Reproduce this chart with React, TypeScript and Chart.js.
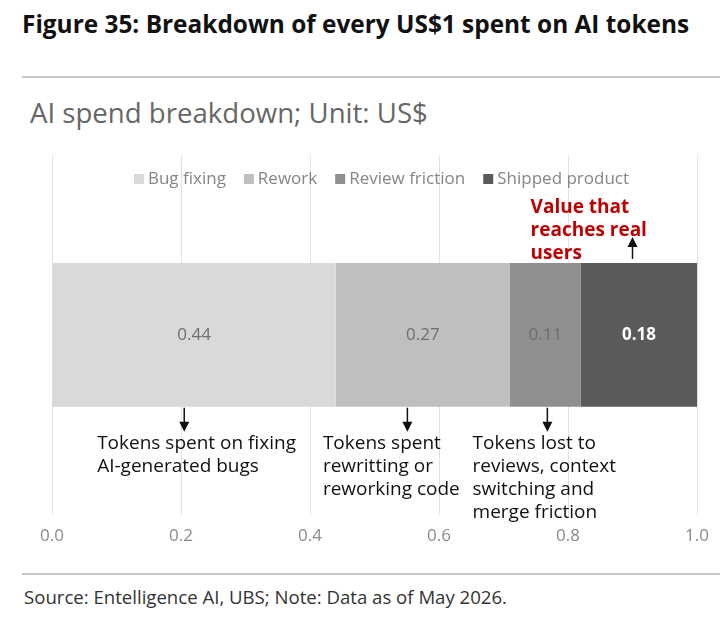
import React, { useEffect, useRef } from "react";
import { Chart, registerables } from "chart.js";

Chart.register(...registerables);

const categories = ["AI spend"];
const seriesNames = ["Bug fixing", "Rework", "Review friction", "Shipped product"];
const seriesValues = [0.44, 0.27, 0.11, 0.18];
const seriesColors = ["#d9d9d9", "#bfbfbf", "#8f8f8f", "#5a5a5a"];
const labelColors = ["#6f6f6f", "#6f6f6f", "#6e6e6e", "#ffffff"];
const labelBold = [false, false, false, true];
const tickValues = [0, 0.2, 0.4, 0.6, 0.8, 1.0];

const belowNotes = [
  { arrowAt: 0.205, textAt: 0.07, lines: ["Tokens spent on fixing", "AI-generated bugs"] },
  { arrowAt: 0.551, textAt: 0.42, lines: ["Tokens spent", "rewritting or", "reworking code"] },
  { arrowAt: 0.768, textAt: 0.652, lines: ["Tokens lost to", "reviews, context", "switching and", "merge friction"] },
];
const aboveNote = { arrowAt: 0.9, textAt: 0.742, lines: ["Value that", "reaches real", "users"] };

const FONT = "'Open Sans', 'Noto Sans', sans-serif";

function arrow(ctx: CanvasRenderingContext2D, x: number, y0: number, y1: number) {
  const dir = y1 > y0 ? 1 : -1;
  ctx.save();
  ctx.strokeStyle = "#111";
  ctx.fillStyle = "#111";
  ctx.lineWidth = 1.5;
  ctx.beginPath();
  ctx.moveTo(x, y0);
  ctx.lineTo(x, y1 - dir * 8);
  ctx.stroke();
  ctx.beginPath();
  ctx.moveTo(x, y1);
  ctx.lineTo(x - 5, y1 - dir * 10);
  ctx.lineTo(x + 5, y1 - dir * 10);
  ctx.closePath();
  ctx.fill();
  ctx.restore();
}

const overlayPlugin = {
  id: "overlay",
  afterDatasetsDraw(chart: any) {
    const ctx: CanvasRenderingContext2D = chart.ctx;
    const xs = chart.scales.x;
    chart.data.datasets.forEach((ds: any, i: number) => {
      const meta = chart.getDatasetMeta(i);
      meta.data.forEach((bar: any) => {
        const p = bar.getProps(["x", "y", "base"], true);
        const cx = (p.x + p.base) / 2;
        ctx.save();
        ctx.font = `${labelBold[i] ? "bold " : ""}17px ${FONT}`;
        ctx.fillStyle = labelColors[i];
        ctx.textAlign = "center";
        ctx.textBaseline = "middle";
        ctx.fillText(String(ds.data[0]), cx, p.y);
        ctx.restore();
      });
    });
    const bar0 = chart.getDatasetMeta(0).data[0];
    const bh = bar0.height;
    const barTop = bar0.y - bh / 2;
    const barBottom = bar0.y + bh / 2;

    belowNotes.forEach((n) => {
      const ax = xs.getPixelForValue(n.arrowAt);
      arrow(ctx, ax, barBottom + 1, barBottom + 25);
      ctx.save();
      ctx.font = `19px ${FONT}`;
      ctx.fillStyle = "#111";
      ctx.textAlign = "left";
      ctx.textBaseline = "middle";
      n.lines.forEach((l, k) => {
        ctx.fillText(l, xs.getPixelForValue(n.textAt), barBottom + 37 + k * 23);
      });
      ctx.restore();
    });

    const ax = xs.getPixelForValue(aboveNote.arrowAt);
    arrow(ctx, ax, barTop - 4, barTop - 26);
    ctx.save();
    ctx.font = `bold 19px ${FONT}`;
    ctx.fillStyle = "#c00000";
    ctx.textAlign = "left";
    ctx.textBaseline = "middle";
    aboveNote.lines.forEach((l, k) => {
      ctx.fillText(l, xs.getPixelForValue(aboveNote.textAt), barTop - 55 + k * 23);
    });
    ctx.restore();

    // legend (drawn over grid)
    ctx.save();
    ctx.font = `17px ${FONT}`;
    ctx.textBaseline = "middle";
    const box = 10;
    const gapBox = 4;
    const gapItem = 18;
    const widths = seriesNames.map((s) => box + gapBox + ctx.measureText(s).width);
    const total = widths.reduce((a, b) => a + b, 0) + gapItem * (seriesNames.length - 1);
    let x = (chart.chartArea.left + chart.chartArea.right) / 2 - total / 2 + 7;
    const ly = chart.chartArea.top + 24;
    seriesNames.forEach((s, i) => {
      ctx.fillStyle = seriesColors[i];
      ctx.fillRect(x, ly - box / 2, box, box);
      ctx.fillStyle = "#858585";
      ctx.fillText(s, x + box + gapBox, ly);
      x += widths[i] + gapItem;
    });
    ctx.restore();
  },
};

export default function App() {
  const ref = useRef<HTMLCanvasElement>(null);
  useEffect(() => {
    if (!ref.current) return;
    const chart = new Chart(ref.current, {
      type: "bar",
      data: {
        labels: categories,
        datasets: seriesNames.map((name, i) => ({
          label: name,
          data: [seriesValues[i]],
          backgroundColor: seriesColors[i],
          borderWidth: 0,
          barPercentage: 0.4,
          categoryPercentage: 1,
        })),
      },
      options: {
        indexAxis: "y",
        animation: false,
        responsive: false,
        maintainAspectRatio: false,
        layout: { padding: { left: 52, right: 31, top: 15, bottom: 3 } },
        plugins: {
          legend: { display: false },
          title: { display: false },
          tooltip: { enabled: false },
        },
        scales: {
          x: {
            stacked: true,
            min: 0,
            max: 1,
            afterBuildTicks: (axis: any) => {
              axis.ticks = tickValues.map((v) => ({ value: v }));
            },
            ticks: {
              callback: (v: any) => Number(v).toFixed(1),
              color: "#8a8a8a",
              font: { family: FONT, size: 17 },
              padding: 11,
            },
            grid: { color: "#e3e3e3", lineWidth: 1, drawTicks: false },
            border: { display: false },
          },
          y: {
            stacked: true,
            display: false,
          },
        },
      },
      plugins: [overlayPlugin],
    } as any);
    return () => chart.destroy();
  }, []);

  return (
    <div style={{ position: "absolute", left: 0, top: 0, width: 728, height: 617, background: "#fff", fontFamily: FONT }}>
      <div style={{ position: "absolute", left: 22, top: 7, fontSize: 24.4, fontWeight: 700, color: "#111", whiteSpace: "nowrap", lineHeight: "34px" }}>
        Figure 35: Breakdown of every US$1 spent on AI tokens
      </div>
      <div style={{ position: "absolute", left: 22, top: 76, width: 698, height: 1.5, background: "#c8c8c8" }} />
      <div style={{ position: "absolute", left: 30, top: 93, fontSize: 27.6, color: "#666", whiteSpace: "nowrap", lineHeight: "38px" }}>
        AI spend breakdown; Unit: US$
      </div>
      <canvas ref={ref} width={728} height={420} style={{ position: "absolute", left: 0, top: 140, width: 728, height: 420 }} />
      <div style={{ position: "absolute", left: 22, top: 573, width: 698, height: 1.5, background: "#c8c8c8" }} />
      <div style={{ position: "absolute", left: 24, top: 584, fontSize: 18.6, color: "#333", whiteSpace: "nowrap", lineHeight: "26px" }}>
        Source: Entelligence AI, UBS; Note: Data as of May 2026.
      </div>
    </div>
  );
}
